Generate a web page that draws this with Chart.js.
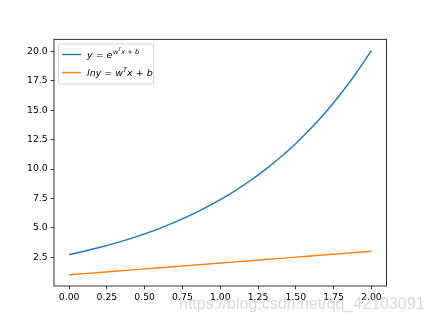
<!DOCTYPE html>
<html>
<head>
<meta charset="utf-8">
<script src="https://cdn.jsdelivr.net/npm/chart.js@4"></script>
<style>
  html, body { margin: 0; padding: 0; background: #fff; }
  canvas { display: block; }
</style>
</head>
<body>
<canvas id="chart" width="429" height="322"></canvas>
<script>
// values
const xValues = [0.0, 0.1, 0.2, 0.3, 0.4, 0.5, 0.6, 0.7, 0.8, 0.9, 1.0,
                 1.1, 1.2, 1.3, 1.4, 1.5, 1.6, 1.7, 1.8, 1.9, 2.0];
const expValues = [2.718, 3.004, 3.320, 3.669, 4.055, 4.482, 4.953, 5.474, 6.050, 6.686, 7.389,
                   8.166, 9.025, 9.974, 11.023, 12.182, 13.464, 14.880, 16.445, 18.174, 20.086];
const lnValues = [1.0, 1.1, 1.2, 1.3, 1.4, 1.5, 1.6, 1.7, 1.8, 1.9, 2.0,
                  2.1, 2.2, 2.3, 2.4, 2.5, 2.6, 2.7, 2.8, 2.9, 3.0];
const xTicks = [0, 0.25, 0.5, 0.75, 1.0, 1.25, 1.5, 1.75, 2.0];
const yTicks = [2.5, 5.0, 7.5, 10.0, 12.5, 15.0, 17.5, 20.0];

const BLUE = "#1f77b4";
const ORANGE = "#ff7f0e";
const FONT = "'DejaVu Sans', sans-serif";

function toPoints(ys) {
    return xValues.map((x, i) => ({ x: x, y: ys[i] }));
}

// draws a list of text pieces one after another (for the math legend labels)
function drawPieces(ctx, x, y, pieces) {
    pieces.forEach(p => {
        ctx.font = (p.italic ? "italic " : "") + p.size + "px " + FONT;
        ctx.fillText(p.t, x, y - (p.dy || 0));
        x += ctx.measureText(p.t).width + (p.gap || 0);
    });
}

const framePlugin = {
    id: "frame",
    afterDraw(chart) {
        const ctx = chart.ctx;
        const a = chart.chartArea;
        ctx.save();
        ctx.strokeStyle = "#000";
        ctx.lineWidth = 0.8;
        ctx.strokeRect(a.left, a.top, a.right - a.left, a.bottom - a.top);

        // legend box
        const bx = 58.5, by = 44, bw = 95, bh = 40;
        ctx.fillStyle = "rgba(255,255,255,0.8)";
        ctx.strokeStyle = "#cccccc";
        ctx.lineWidth = 0.8;
        ctx.beginPath();
        ctx.roundRect(bx, by, bw, bh, 2);
        ctx.fill();
        ctx.stroke();

        ctx.lineWidth = 1.4;
        ctx.strokeStyle = BLUE;
        ctx.beginPath();
        ctx.moveTo(62, 54.5);
        ctx.lineTo(81, 54.5);
        ctx.stroke();
        ctx.strokeStyle = ORANGE;
        ctx.beginPath();
        ctx.moveTo(62, 72.5);
        ctx.lineTo(81, 72.5);
        ctx.stroke();

        ctx.fillStyle = "#000";
        ctx.textBaseline = "alphabetic";
        ctx.textAlign = "left";
        const s = 9.5, ss = 6.6, sss = 4.9;
        drawPieces(ctx, 87, 58, [
            { t: "y", size: s, italic: true },
            { t: " = ", size: s },
            { t: "e", size: s, italic: true, gap: 0.5 },
            { t: "w", size: ss, italic: true, dy: 4.5 },
            { t: "T", size: sss, italic: true, dy: 7.5 },
            { t: "x", size: ss, italic: true, dy: 4.5 },
            { t: " + ", size: ss, dy: 4.5 },
            { t: "b", size: ss, italic: true, dy: 4.5 }
        ]);
        drawPieces(ctx, 87, 76, [
            { t: "lny", size: s, italic: true },
            { t: " = ", size: s },
            { t: "w", size: s, italic: true },
            { t: "T", size: ss, italic: true, dy: 4 },
            { t: "x", size: s, italic: true },
            { t: " + ", size: s },
            { t: "b", size: s, italic: true }
        ]);

        // watermark of the source image
        ctx.font = "16px 'Liberation Sans', Arial, sans-serif";
        ctx.fillStyle = "rgba(190,190,190,0.6)";
        ctx.fillText("https://blog.csdn.net/qq_42103091", 179, 308.5);
        ctx.restore();
    }
};

const config = {
    type: "line",
    data: {
        datasets: [{
            label: "y = e^(w^T x + b)",
            data: toPoints(expValues),
            borderColor: BLUE,
            borderWidth: 1.4,
            pointRadius: 0,
            cubicInterpolationMode: "monotone",
            fill: false
        }, {
            label: "lny = w^T x + b",
            data: toPoints(lnValues),
            borderColor: ORANGE,
            borderWidth: 1.4,
            pointRadius: 0,
            fill: false
        }]
    },
    options: {
        responsive: false,
        animation: false,
        events: [],
        layout: {
            padding: { left: 0, top: 39.3, right: 42.5, bottom: 0 }
        },
        plugins: {
            legend: { display: false },
            tooltip: { enabled: false }
        },
        scales: {
            x: {
                type: "linear",
                min: -0.1,
                max: 2.1,
                afterBuildTicks: scale => {
                    scale.ticks = xTicks.map(v => ({ value: v }));
                },
                afterFit: scale => { scale.height = 36; },
                border: { display: false },
                grid: {
                    drawOnChartArea: false,
                    drawTicks: true,
                    tickLength: 3.3,
                    color: "#000",
                    lineWidth: 0.8
                },
                ticks: {
                    color: "#000",
                    padding: 3,
                    maxRotation: 0,
                    font: { family: FONT, size: 9.3 },
                    callback: v => v.toFixed(2)
                }
            },
            y: {
                type: "linear",
                min: 0.046,
                max: 21.04,
                afterBuildTicks: scale => {
                    scale.ticks = yTicks.map(v => ({ value: v }));
                },
                afterFit: scale => { scale.width = 54; },
                border: { display: false },
                grid: {
                    drawOnChartArea: false,
                    drawTicks: true,
                    tickLength: 3.3,
                    color: "#000",
                    lineWidth: 0.8
                },
                ticks: {
                    color: "#000",
                    padding: 3,
                    font: { family: FONT, size: 9.3 },
                    callback: v => v.toFixed(1)
                }
            }
        }
    },
    plugins: [framePlugin]
};

new Chart(document.getElementById("chart"), config);
</script>
</body>
</html>
